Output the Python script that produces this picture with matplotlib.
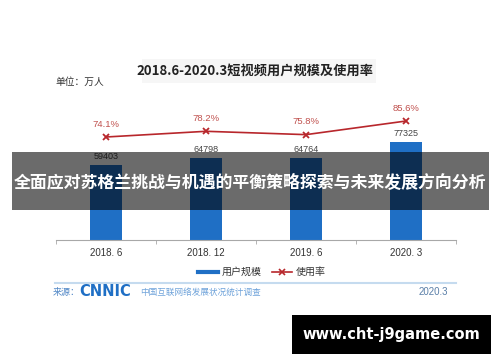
import matplotlib
matplotlib.use("Agg")
import matplotlib.pyplot as plt
from matplotlib.patches import Rectangle
from matplotlib.lines import Line2D

plt.rcParams['font.family'] = ['Noto Sans CJK SC', 'DejaVu Sans']

categories = ["2018. 6", "2018. 12", "2019. 6", "2020. 3"]
users = [59403, 64798, 64764, 77325]          # 用户规模 (万人)
rates = [74.1, 78.2, 75.8, 85.6]              # 使用率 (%)
title = "2018.6-2020.3短视频用户规模及使用率"
band_text = "全面应对苏格兰挑战与机遇的平衡策略探索与未来发展方向分析"

W, H = 500, 362
fig = plt.figure(figsize=(W / 100, H / 100), dpi=100)
fig.patch.set_facecolor("white")

def fx(px):
    return px / W

def fy(py):
    return 1 - py / H

ax = fig.add_axes([fx(56), fy(240), fx(400), 139 / H])
ax.patch.set_alpha(0)
x = list(range(len(categories)))
bar_color = "#1f6fc5"
ax.bar(x, users, width=0.32, color=bar_color, zorder=2)
ax.set_ylim(0, 110000)
ax.set_xlim(-0.5, len(categories) - 0.5)
for s in ["top", "right", "left"]:
    ax.spines[s].set_visible(False)
ax.spines["bottom"].set_color("#a8a8a8")
ax.set_yticks([])
ax.set_xticks(x)
ax.set_xticklabels(categories, family=["Liberation Sans", "DejaVu Sans"], fontsize=7, color="#333333")
ax.tick_params(axis="x", length=0, pad=6)
ax.set_xticks([i - 0.5 for i in range(len(categories) + 1)], minor=True)
ax.tick_params(axis="x", which="minor", length=3, color="#a8a8a8")
for xi, v in zip(x, users):
    ax.annotate(f"{v}", (xi, v), xytext=(0, 3), textcoords="offset points",
                ha="center", va="bottom", fontsize=6.5, color="#444444",
                family=["Liberation Sans", "DejaVu Sans"])

ax2 = ax.twinx()
ax2.set_ylim(0, 100)
for s in ["top", "right", "left", "bottom"]:
    ax2.spines[s].set_visible(False)
ax2.set_yticks([])
line_color = "#b8272c"
ax2.plot(x, rates, color=line_color, lw=1.2, marker="x", markersize=5, mew=1.3, zorder=3)
for xi, r in zip(x, rates):
    ax2.annotate(f"{r}%", (xi, r), xytext=(0, 6), textcoords="offset points",
                 ha="center", va="bottom", fontsize=6.8, color="#c0504d",
                 family=["Liberation Sans", "DejaVu Sans"])

# title and unit
fig.add_artist(Rectangle((fx(142), fy(83)), fx(234), 24 / H, transform=fig.transFigure,
                         facecolor="#f6f6f6", edgecolor="none", zorder=1))
fig.text(fx(255), fy(71), title, ha="center", va="center", fontsize=9.5,
         fontweight="bold", color="#222222", zorder=2)
fig.text(fx(55), fy(82), "单位：万人", ha="left", va="center", fontsize=7, color="#333333")

# legend
handles = [Line2D([], [], color=bar_color, lw=3),
           Line2D([], [], color=line_color, lw=1.2, marker="x", markersize=4, mew=1.2)]
fig.legend(handles, ["用户规模", "使用率"], loc="center", bbox_to_anchor=(fx(262), fy(272)),
           ncol=2, frameon=False, fontsize=7.2, handlelength=2.0, columnspacing=1.0,
           handletextpad=0.4, labelcolor="#333333")

# source row
fig.add_artist(Line2D([fx(55), fx(456)], [fy(283), fy(283)], color="#c5dbef", lw=1.5,
                      transform=fig.transFigure))
fig.text(fx(53), fy(292), "来源：", ha="left", va="center", fontsize=6.5, color="#4f86c6")
fig.text(fx(79), fy(292), "CNNIC", ha="left", va="center", fontsize=10.5, fontweight="bold",
         color="#1f6fc5", family="DejaVu Sans")
fig.text(fx(140), fy(292), "中国互联网络发展状况统计调查", ha="left", va="center",
         fontsize=6.2, color="#6fa3da")
fig.text(fx(448), fy(292), "2020.3", ha="right", va="center", fontsize=7,
         color="#5a7fa8", family=["Liberation Sans", "DejaVu Sans"])

# overlay band
fig.add_artist(Rectangle((fx(12), fy(210)), fx(477), 58 / H, transform=fig.transFigure,
                         facecolor="black", alpha=0.58, edgecolor="none", zorder=5))
fig.text(fx(250), fy(183), band_text, ha="center", va="center", fontsize=12.2,
         fontweight="bold", color="white", zorder=6)

# bottom black box
fig.add_artist(Rectangle((fx(292), fy(354)), fx(199), 39 / H, transform=fig.transFigure,
                         facecolor="black", edgecolor="none", zorder=5))
fig.text(fx(391), fy(334), "www.cht-j9game.com", ha="center", va="center", fontsize=10.5,
         fontweight="bold", color="white", family="DejaVu Sans", zorder=6)

fig.savefig("out.png", dpi=100, facecolor="white")
